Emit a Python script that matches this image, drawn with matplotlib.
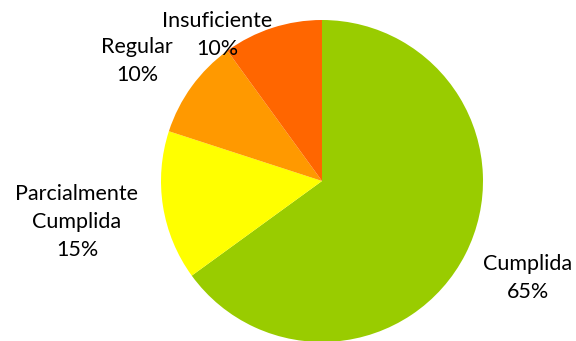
import matplotlib.pyplot as plt

labels = ['Cumplida', 'Parcialmente\nCumplida', 'Regular', 'Insuficiente']
values = [65, 15, 10, 10]
colors = ['#99CC00', '#FFFF00', '#FF9900', '#FF6600']

# label centres in pixels (x from left, y from top)
label_px = [(528, 278), (77, 222), (137, 61), (217, 35)]

W, H = 576, 341
cx, cy, r = 322, 181, 161

fig = plt.figure(figsize=(W / 100, H / 100), dpi=100)
ax = fig.add_axes([0, 0, 1, 1])
ax.pie(values, colors=colors, startangle=90, counterclock=False, radius=1,
       wedgeprops=dict(linewidth=0))
ax.set_xlim(-cx / r, (W - cx) / r)
ax.set_ylim(-(H - cy) / r, cy / r)
ax.set_aspect('equal', adjustable='datalim')
ax.axis('off')

for lab, v, (px, py) in zip(labels, values, label_px):
    ax.text((px - cx) / r, (cy - py) / r, f'{lab}\n{v}%', ha='center', va='center',
            fontsize=15.5, family='Lato', linespacing=1.5, color='#000000')

fig.savefig('out.png', dpi=100)
